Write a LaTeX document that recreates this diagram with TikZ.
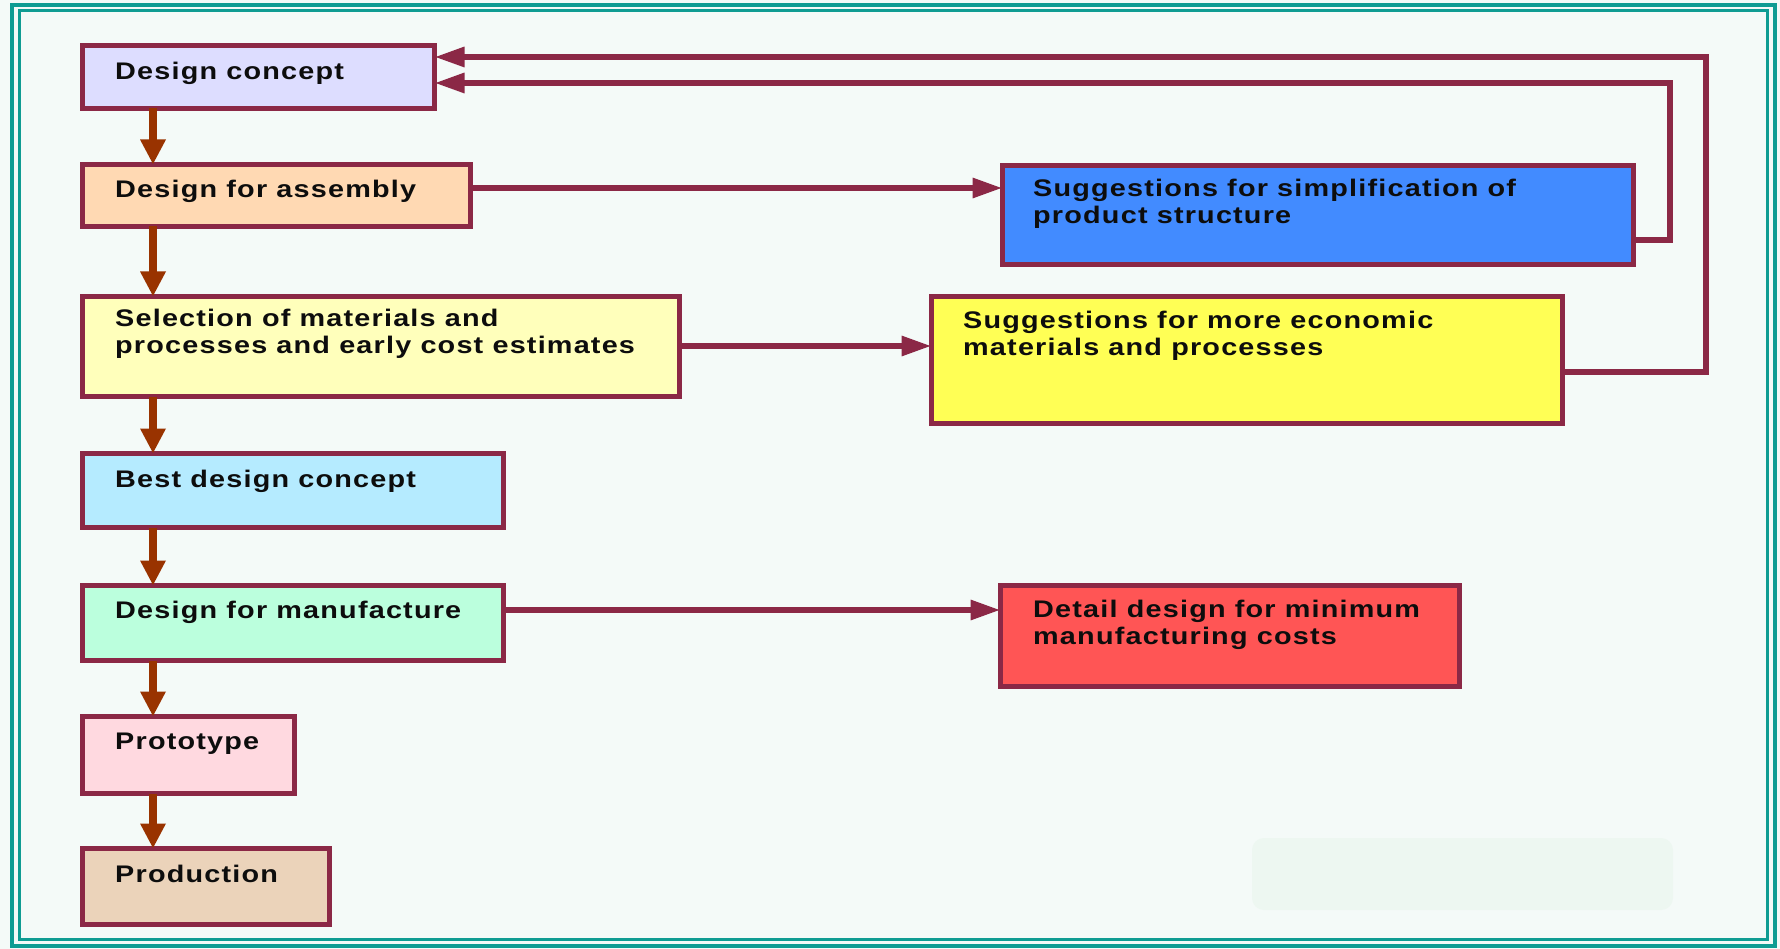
\documentclass[tikz,border=0pt]{standalone}
\usepackage{fontspec}
\usetikzlibrary{arrows.meta}
\newfontfamily\lblfont{Liberation Sans}[FakeStretch=1.2,LetterSpace=5]

\definecolor{pagebg}{HTML}{F4FAF8}
\definecolor{frame}{HTML}{0F9C93}
\definecolor{bord}{HTML}{8B2846}
\definecolor{down}{HTML}{993300}
\definecolor{cConcept}{HTML}{DDDDFF}
\definecolor{cAssembly}{HTML}{FFD9B3}
\definecolor{cSelect}{HTML}{FFFFBB}
\definecolor{cBest}{HTML}{B5EBFF}
\definecolor{cManuf}{HTML}{BBFFDD}
\definecolor{cProto}{HTML}{FFD9E0}
\definecolor{cProd}{HTML}{EBD3BA}
\definecolor{cBlue}{HTML}{428BFF}
\definecolor{cYellow}{HTML}{FFFF55}
\definecolor{cRed}{HTML}{FF5555}
\definecolor{cNote}{HTML}{EDF7F1}

\tikzset{
  box/.style={draw=bord, line width=5pt, inner sep=0pt, outer sep=0pt, anchor=north west},
  txt/.style={anchor=north west, inner sep=0pt, align=left, text=black!95,
    font=\lblfont\bfseries\fontsize{24}{27}\selectfont},
  downarrow/.style={draw=down, line width=8.5pt, -{Triangle[length=25pt,width=24pt]}},
  flow/.style={draw=bord, line width=6pt, -{Triangle[length=30pt,width=19pt]}},
}

\begin{document}
\begin{tikzpicture}[x=1pt,y=-1pt]
\useasboundingbox (0,0) rectangle (1780,949);
\fill[pagebg] (0,0) rectangle (1780,949);

% double frame
\draw[frame, line width=4pt] (12,5) rectangle (1775,946);
\draw[frame, line width=3pt] (19,11) rectangle (1767,939);

% faint panel
\fill[cNote, rounded corners=12pt] (1252,838) rectangle (1673,910);

% main column
\node[box, fill=cConcept,  minimum width=352pt, minimum height=63pt]  (dc)    at (82.5,45.5) {};
\node[box, fill=cAssembly, minimum width=388pt, minimum height=62pt]  (dfa)   at (82.5,164.5) {};
\node[box, fill=cSelect,   minimum width=597pt, minimum height=100pt] (sel)   at (82.5,296.5) {};
\node[box, fill=cBest,     minimum width=421pt, minimum height=74pt]  (best)  at (82.5,453.5) {};
\node[box, fill=cManuf,    minimum width=421pt, minimum height=75pt]  (dfm)   at (82.5,585.5) {};
\node[box, fill=cProto,    minimum width=212pt, minimum height=77pt]  (proto) at (82.5,716.5) {};
\node[box, fill=cProd,     minimum width=247pt, minimum height=76pt]  (prod)  at (82.5,848.5) {};

% side boxes
\node[box, fill=cBlue,   minimum width=631pt, minimum height=99pt]  (simp) at (1002.5,165.5) {};
\node[box, fill=cYellow, minimum width=631pt, minimum height=127pt] (econ) at (931.5,296.5) {};
\node[box, fill=cRed,    minimum width=459pt, minimum height=101pt] (detl) at (1000.5,585.5) {};

% labels
\node[txt] (dcT)    at (115,62)  {Design concept};
\node[txt] (dfaT)   at (115,180) {Design for assembly};
\node[txt] (selT)   at (115,309) {Selection of materials and\\processes and early cost estimates};
\node[txt] (bestT)  at (115,470) {Best design concept};
\node[txt] (dfmT)   at (115,601) {Design for manufacture};
\node[txt] (protoT) at (115,733) {Prototype};
\node[txt] (prodT)  at (115,865) {Production};
\node[txt] (simpT)  at (1033,179) {Suggestions for simplification of\\product structure};
\node[txt] (econT)  at (963,311)  {Suggestions for more economic\\materials and processes};
\node[txt] (detlT)  at (1033,600) {Detail design for minimum\\manufacturing costs};

% vertical flow
\coordinate (col) at (153,0);
\draw[downarrow] (dc.south -| col)    -- (dfa.north -| col);
\draw[downarrow] (dfa.south -| col)   -- (sel.north -| col);
\draw[downarrow] (sel.south -| col)   -- (best.north -| col);
\draw[downarrow] (best.south -| col)  -- (dfm.north -| col);
\draw[downarrow] (dfm.south -| col)   -- (proto.north -| col);
\draw[downarrow] (proto.south -| col) -- (prod.north -| col);

% side flows
\coordinate (ya) at (0,188);
\coordinate (yb) at (0,346);
\coordinate (yc) at (0,610);
\draw[flow] (dfa.east |- ya) -- (simp.west |- ya);
\draw[flow] (sel.east |- yb) -- (econ.west |- yb);
\draw[flow] (dfm.east |- yc) -- (detl.west |- yc);

% feedback loops
\coordinate (fa1) at (1670,240);
\coordinate (fa2) at (1670,83);
\coordinate (fb1) at (1706,372);
\coordinate (fb2) at (1706,57);
\draw[flow] (simp.east |- fa1) -- (fa1) -- (fa2) -- (dc.east |- fa2);
\draw[flow] (econ.east |- fb1) -- (fb1) -- (fb2) -- (dc.east |- fb2);
\end{tikzpicture}
\end{document}
